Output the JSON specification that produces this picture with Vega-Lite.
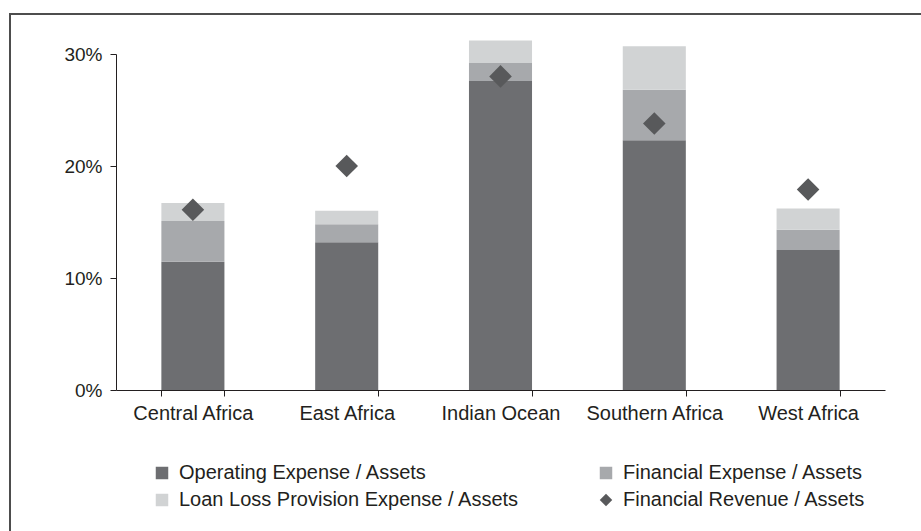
{
  "$schema": "https://vega.github.io/schema/vega-lite/v6.json",
  "autosize": {"type": "none"},
  "padding": {"left": 10, "top": 14, "right": 0, "bottom": 0},
  "width": 918,
  "height": 524,
  "background": "white",
  "config": {
    "view": {"stroke": "#4d4d4d", "strokeWidth": 2},
    "font": "Liberation Sans",
    "axis": {
      "domainColor": "#231f20",
      "tickColor": "#231f20",
      "labelColor": "#231f20",
      "labelFont": "Liberation Sans",
      "grid": false,
      "title": null,
      "domainWidth": 1,
      "tickWidth": 1
    },
    "legend": {
      "labelFont": "Liberation Sans",
      "labelColor": "#231f20"
    }
  },
  "data": {
    "values": [
      {"region": "Central Africa", "series": "Operating Expense / Assets", "k": 1, "value": 0.1145},
      {"region": "Central Africa", "series": "Financial Expense / Assets", "k": 2, "value": 0.0365},
      {"region": "Central Africa", "series": "Loan Loss Provision Expense / Assets", "k": 3, "value": 0.016},
      {"region": "Central Africa", "series": "Financial Revenue / Assets", "k": 4, "value": 0.161},
      {"region": "East Africa", "series": "Operating Expense / Assets", "k": 1, "value": 0.132},
      {"region": "East Africa", "series": "Financial Expense / Assets", "k": 2, "value": 0.016},
      {"region": "East Africa", "series": "Loan Loss Provision Expense / Assets", "k": 3, "value": 0.012},
      {"region": "East Africa", "series": "Financial Revenue / Assets", "k": 4, "value": 0.200},
      {"region": "Indian Ocean", "series": "Operating Expense / Assets", "k": 1, "value": 0.276},
      {"region": "Indian Ocean", "series": "Financial Expense / Assets", "k": 2, "value": 0.016},
      {"region": "Indian Ocean", "series": "Loan Loss Provision Expense / Assets", "k": 3, "value": 0.020},
      {"region": "Indian Ocean", "series": "Financial Revenue / Assets", "k": 4, "value": 0.280},
      {"region": "Southern Africa", "series": "Operating Expense / Assets", "k": 1, "value": 0.223},
      {"region": "Southern Africa", "series": "Financial Expense / Assets", "k": 2, "value": 0.045},
      {"region": "Southern Africa", "series": "Loan Loss Provision Expense / Assets", "k": 3, "value": 0.039},
      {"region": "Southern Africa", "series": "Financial Revenue / Assets", "k": 4, "value": 0.238},
      {"region": "West Africa", "series": "Operating Expense / Assets", "k": 1, "value": 0.125},
      {"region": "West Africa", "series": "Financial Expense / Assets", "k": 2, "value": 0.018},
      {"region": "West Africa", "series": "Loan Loss Provision Expense / Assets", "k": 3, "value": 0.019},
      {"region": "West Africa", "series": "Financial Revenue / Assets", "k": 4, "value": 0.179}
    ]
  },
  "encoding": {
    "x": {
      "field": "region",
      "type": "nominal",
      "sort": null,
      "scale": {"range": [106, 875], "paddingInner": 0.59, "paddingOuter": 0.295},
      "axis": {
        "orient": "bottom",
        "offset": -148,
        "labelAngle": 0,
        "labelFontSize": 20,
        "labelPadding": 7,
        "tickSize": 6,
        "tickBand": "extent"
      }
    },
    "y": {
      "field": "value",
      "type": "quantitative",
      "scale": {"domain": [0, 0.3], "range": [376, 40], "nice": false, "zero": true},
      "axis": {
        "orient": "left",
        "offset": -106,
        "values": [0, 0.1, 0.2, 0.3],
        "format": ".0%",
        "labelFontSize": 19,
        "labelPadding": 8,
        "tickSize": 6
      }
    },
    "color": {
      "field": "series",
      "type": "nominal",
      "scale": {
        "domain": ["Operating Expense / Assets", "Financial Expense / Assets", "Loan Loss Provision Expense / Assets", "Financial Revenue / Assets"],
        "range": ["#6d6e71", "#a7a9ac", "#d1d3d4", "#58595b"]
      },
      "legend": {
        "title": null,
        "orient": "none",
        "direction": "horizontal",
        "legendX": 142,
        "legendY": 449,
        "columns": 2,
        "columnPadding": 76,
        "rowPadding": 7,
        "labelFontSize": 20,
        "labelLimit": 0,
        "labelOffset": 7,
        "symbolSize": 156,
        "symbolStrokeWidth": 0
      }
    }
  },
  "layer": [
    {
      "transform": [{"filter": "datum.k < 4"}],
      "mark": {"type": "bar"},
      "encoding": {
        "y": {"field": "value", "type": "quantitative", "stack": "zero"},
        "order": {"field": "k", "type": "quantitative", "sort": "ascending"}
      }
    },
    {
      "transform": [{"filter": "datum.k == 4"}],
      "mark": {"type": "point", "filled": true, "opacity": 1, "size": 510},
      "encoding": {
        "y": {"field": "value", "type": "quantitative", "stack": null},
        "shape": {
          "field": "series",
          "type": "nominal",
          "scale": {
            "domain": ["Operating Expense / Assets", "Financial Expense / Assets", "Loan Loss Provision Expense / Assets", "Financial Revenue / Assets"],
            "range": ["square", "square", "square", "diamond"]
          },
          "legend": {
            "title": null,
            "orient": "none",
            "direction": "horizontal",
            "legendX": 142,
            "legendY": 449,
            "columns": 2,
            "columnPadding": 76,
            "rowPadding": 7,
            "labelFontSize": 20,
            "labelLimit": 0,
            "labelOffset": 7,
            "symbolSize": 156,
            "symbolStrokeWidth": 0
          }
        }
      }
    }
  ]
}
